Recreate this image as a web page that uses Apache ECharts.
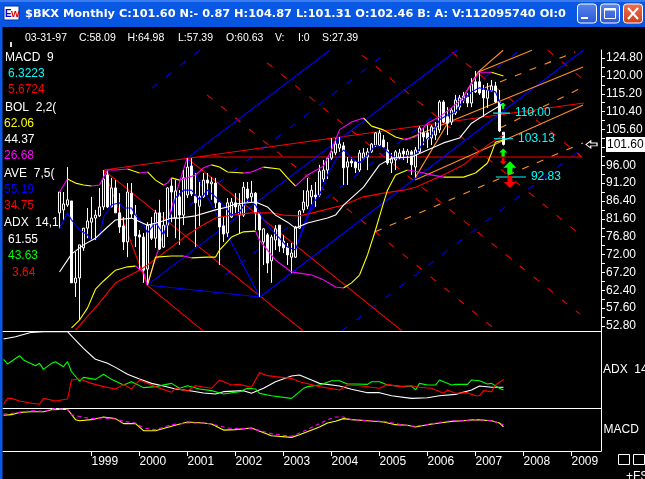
<!DOCTYPE html>
<html>
<head>
<meta charset="utf-8">
<style>html,body{margin:0;padding:0;background:#000;overflow:hidden}#main{width:645px;height:479px}</style>
<script src="https://cdn.jsdelivr.net/npm/echarts@6/dist/echarts.min.js"></script>
</head>
<body>
<div id="main"></div>
<script>
// months are counted from Jan 1999 = 0
var firstCandleMonth = -8;
// open, close, low, high
var candles = [
  [83.2,88.8,78.9,88.8],[84.0,85.6,81.3,88.8],[85.3,86.7,84.8,95.5],[86.4,64.4,64.4,86.4],
  [64.4,65.7,60.6,72.7],[65.7,74.6,54.4,74.6],[73.8,79.1,73.0,79.1],[79.1,81.0,76.4,84.5],
  [80.7,81.8,75.9,87.5],[81.8,82.6,75.9,84.0],[82.4,84.8,82.1,89.9],[84.8,92.3,84.0,94.7],
  [93.4,84.8,84.5,94.7],[84.8,89.9,84.8,92.6],[89.9,83.2,83.2,92.0],[83.2,79.4,77.8,88.5],
  [79.7,75.4,73.2,82.1],[75.4,88.8,71.3,91.2],[88.5,82.9,81.8,91.2],[82.6,77.0,74.0,85.3],
  [77.3,76.7,67.8,78.6],[76.7,67.8,64.4,77.8],[68.1,79.9,63.8,80.7],[79.9,76.4,75.9,82.1],
  [76.4,83.2,73.8,84.0],[83.2,73.5,73.2,86.7],[74.0,79.9,73.8,83.4],[79.9,89.9,76.7,90.1],
  [90.4,88.8,80.7,92.6],[81.8,89.1,76.4,92.0],[87.5,82.6,74.6,89.3],[82.6,92.6,79.9,94.7],
  [88.0,95.5,87.2,97.9],[95.8,88.3,87.7,97.9],[87.7,85.9,74.0,93.9],[85.0,87.7,79.7,91.5],
  [87.5,92.0,87.2,93.9],[92.0,91.2,88.0,93.9],[91.0,91.5,86.7,92.8],[91.2,85.9,84.5,92.6],
  [85.9,79.4,69.2,86.1],[79.7,77.5,75.4,82.1],[77.8,85.9,76.7,87.2],[82.1,86.1,81.8,87.2],
  [85.9,84.8,82.6,88.5],[82.6,85.3,77.5,88.5],[82.6,90.1,82.1,91.5],[89.6,87.2,86.1,91.5],
  [87.5,88.5,86.1,91.8],[88.5,83.2,78.6,88.8],[83.2,78.6,60.6,83.4],[75.4,78.9,69.2,79.1],
  [77.3,69.7,67.0,77.8],[70.3,76.7,64.4,77.3],[75.9,78.9,73.2,79.9],[79.9,74.3,72.7,79.9],
  [75.6,73.8,72.4,77.3],[74.0,71.9,69.2,75.1],[71.3,72.4,67.0,75.1],[71.3,79.4,71.1,79.7],
  [79.1,83.7,78.9,84.0],[84.0,86.1,83.2,89.3],[85.0,89.1,84.2,92.6],[87.5,89.3,85.3,90.7],
  [88.0,87.5,84.8,91.5],[88.0,94.4,87.5,96.1],[92.3,94.7,91.5,97.4],[94.7,97.9,92.3,98.2],
  [97.9,99.6,97.4,103.3],[99.3,101.7,98.7,103.3],[100.6,101.7,99.6,103.6],[101.2,95.3,90.7,102.2],
  [95.5,96.9,90.7,98.2],[97.1,96.6,95.5,98.2],[96.9,95.3,93.9,97.4],[94.7,99.3,94.2,100.1],
  [97.9,99.3,97.4,100.6],[98.2,99.6,94.7,100.6],[99.6,101.7,99.3,102.0],[101.4,104.7,100.9,104.9],
  [101.4,104.7,100.9,105.5],[102.8,100.9,100.6,104.1],[100.1,96.6,96.1,102.2],[96.6,97.7,93.9,99.3],
  [97.4,99.6,94.7,100.1],[98.2,99.3,97.4,100.4],[99.8,99.0,97.4,100.6],[98.7,99.8,96.6,100.4],
  [99.6,96.1,93.4,100.1],[95.5,100.1,92.8,100.9],[99.6,106.0,99.3,106.5],[104.7,103.6,101.4,106.0],
  [104.7,103.0,100.6,106.8],[103.3,106.3,101.4,106.8],[104.1,106.0,102.8,107.6],[105.5,113.0,104.7,113.5],
  [113.0,107.6,107.3,113.5],[109.0,107.3,104.1,111.6],[107.6,110.8,106.8,111.4],[110.0,113.5,109.5,114.9],
  [111.6,114.1,110.8,114.9],[113.5,114.6,112.7,115.7],[114.3,112.7,111.6,115.4],[112.7,117.8,111.6,119.4],
  [118.4,115.7,115.4,121.3],[118.4,115.4,114.9,121.3],[116.2,114.1,109.0,117.6],[114.0,116.2,111.4,118.1],
  [116.0,117.3,115.7,118.9],[117.3,113.0,112.7,118.4],[113.0,105.2,104.9,116.2],[104.87,101.6,101.31,104.87]
];

// indicators as [month, value]
var bolUpper = [[-8,88.8],[-6,92.3],[-4,91.2],[-2,90.7],[0,90.4],[2,90.7],[3,92.8],[4,94.7],[6,94.7],[9,95.0],[12,93.9],[14,94.2],[16,92.0],[18,90.7],[19,91.2],[20,92.6],[22,92.0],[24,92.6],[26,93.4],[28,95.3],[30,96.1],[32,95.5],[34,94.2],[38,93.9],[40,94.2],[43,95.5],[47,95.0],[49,92.6],[51,90.4],[54,93.4],[58,95.8],[60,100.1],[62,105.5],[65,107.6],[68,108.7],[70,106.5],[73,105.5],[76,103.6],[78,103.0],[81,103.6],[84,107.3],[87,109.0],[90,111.4],[93,114.3],[95,118.1],[97,121.0],[100,121.0],[103,120.0]];
var bolLower = [[-5,52.3],[-3,54.4],[-1,57.6],[1,62.7],[3,64.9],[6,67.8],[9,68.7],[11,68.9],[13,67.3],[14,63.8],[16,71.3],[20,71.6],[23,71.6],[25,71.1],[29,71.3],[31,71.3],[32,73.2],[35,76.7],[38,78.1],[41,78.3],[42,75.9],[46,70.5],[50,67.3],[52,67.0],[55,66.5],[58,65.2],[61,63.3],[63,63.0],[65,64.4],[67,66.5],[69,71.9],[71,78.6],[73,85.9],[74,89.3],[76,93.4],[79,94.7],[82,94.2],[85,93.4],[88,92.8],[93,92.8],[96,93.9],[99,96.6],[100,99.3],[101,102.2],[103,102.8]];
var bolMiddle = [[-8,67.3],[-6,70.5],[-5,72.1],[-2,74.6],[1,76.4],[4,79.4],[6,81.3],[10,81.8],[14,79.9],[17,80.7],[20,81.8],[22,81.8],[26,82.4],[31,84.0],[34,84.8],[36,85.6],[41,86.1],[44,84.8],[46,82.6],[49,80.7],[51,79.1],[54,80.5],[59,81.8],[61,82.6],[63,85.3],[68,90.1],[72,96.1],[75,97.9],[80,98.2],[84,100.1],[88,102.0],[92,103.3],[95,107.3],[99,110.0],[102,111.9],[103,112.7]];
var aveFast = [[-8,78.9],[-6,83.2],[-5,81.3],[-3,78.6],[-1,77.3],[0,75.9],[2,76.7],[3,82.1],[5,85.3],[7,85.9],[8,84.5],[10,84.5],[11,82.6],[13,79.9],[14,77.8],[16,80.7],[18,77.3],[20,83.2],[21,87.2],[23,89.3],[25,89.3],[27,86.7],[29,89.3],[31,87.5],[33,85.3],[35,82.6],[37,83.4],[39,86.7],[41,85.3],[43,81.3],[45,78.6],[47,76.4],[49,74.0],[51,73.2],[53,79.9],[55,85.3],[57,88.0],[59,93.4],[61,97.4],[63,100.1],[65,97.9],[67,96.6],[69,98.7],[71,101.4],[73,100.6],[75,98.7],[77,97.4],[79,98.7],[81,98.7],[83,102.2],[85,104.1],[87,108.2],[89,109.5],[91,110.3],[93,113.5],[95,115.7],[97,116.8],[99,116.2],[101,115.7],[103,110.8]];
var aveSlow = [[-4,51.7],[2,59.0],[6,64.4],[12,67.8],[14,69.2],[19,73.2],[24,77.3],[27,79.4],[31,81.8],[35,82.6],[40,83.2],[45,83.2],[48,82.6],[52,82.4],[56,83.4],[63,85.3],[68,87.5],[73,88.5],[78,89.3],[81,90.1],[84,91.5],[89,93.9],[93,96.1],[95,97.9],[99,101.4],[103,104.1]];

var adxLine = [[-22,61.6],[-19,63.7],[-15,67.6],[-12,68.2],[-6,68.2],[-4,60.7],[-2,53.3],[0,46.7],[1,43.5],[4,39.9],[6,36.3],[9,30.1],[12,25.9],[15,22.0],[18,19.6],[21,17.0],[25,15.2],[28,13.4],[31,12.5],[33,14.6],[38,15.5],[40,13.1],[43,17.6],[46,23.5],[50,28.6],[52,29.5],[55,25.0],[57,22.0],[62,19.6],[65,16.7],[69,13.7],[72,13.7],[75,11.0],[80,8.6],[84,9.2],[87,11.0],[91,12.2],[95,16.1],[97,19.6],[100,18.5],[103,18.5]];
var diPlus = [[-22,43.5],[-21,39.3],[-18,46.7],[-17,42.9],[-14,37.8],[-13,39.9],[-12,34.5],[-10,39.9],[-9,41.4],[-7,36.9],[-6,41.4],[-5,32.4],[-3,24.1],[-2,27.4],[1,25.6],[3,30.1],[5,25.6],[8,20.5],[10,23.5],[13,18.2],[16,19.1],[20,22.0],[22,17.6],[24,19.9],[27,17.0],[30,15.5],[33,12.5],[37,14.6],[39,17.6],[41,17.0],[42,13.1],[45,11.0],[50,8.6],[53,17.6],[54,19.1],[57,20.5],[60,24.4],[62,24.4],[64,21.4],[66,21.4],[69,21.1],[70,23.5],[72,23.5],[74,20.5],[78,19.1],[80,19.6],[81,16.1],[82,22.0],[84,20.5],[86,20.5],[87,25.0],[90,20.5],[91,21.1],[94,21.1],[95,25.0],[97,24.4],[99,21.4],[100,22.0],[102,17.6],[103,16.1]];
var diMinus = [[-22,3.3],[-21,8.6],[-20,8.6],[-18,6.3],[-15,4.2],[-13,3.3],[-12,8.6],[-9,6.3],[-6,8.0],[-5,25.0],[-3,25.9],[0,22.0],[3,19.1],[6,17.0],[8,21.1],[10,17.0],[12,25.0],[16,19.1],[20,14.0],[21,17.6],[24,15.2],[26,19.9],[30,17.6],[32,25.0],[35,20.5],[37,21.1],[40,18.5],[42,31.6],[44,28.9],[46,28.0],[50,26.5],[52,23.5],[57,19.1],[61,16.7],[62,16.1],[64,20.5],[67,19.9],[70,18.5],[72,17.6],[74,21.1],[77,19.1],[80,19.9],[82,18.5],[85,17.6],[88,13.1],[89,16.1],[91,13.1],[94,13.7],[96,11.0],[97,11.0],[98,15.5],[100,14.6],[101,20.5],[103,25.6]];

var macdLine = [[-22,5.7],[-20,6.0],[-18,7.1],[-15,7.4],[-12,7.4],[-10,8.4],[-6,8.6],[-4,3.6],[-3,3.1],[0,3.6],[3,4.9],[6,4.1],[8,1.7],[11,1.7],[13,-1.7],[16,-1.7],[20,0.4],[24,2.5],[28,2.0],[30,1.5],[33,-1.4],[36,-1.2],[40,-0.4],[45,-4.1],[50,-4.9],[52,-3.6],[57,0.1],[59,2.0],[61,2.8],[63,4.1],[65,3.6],[69,3.1],[73,2.5],[76,1.2],[79,0.9],[81,0.1],[84,1.2],[87,2.0],[90,2.8],[93,3.1],[96,3.6],[100,3.1],[102,2.0],[103,0.1]];
var macdSignal = [[-22,6.3],[-19,6.8],[-15,7.9],[-12,7.6],[-9,8.9],[-6,8.4],[-5,6.0],[-2,4.7],[0,4.1],[3,4.4],[6,3.9],[8,2.8],[11,2.0],[13,-0.4],[16,-1.2],[20,1.2],[24,2.0],[28,2.0],[30,1.5],[34,-0.4],[37,-0.7],[40,-0.7],[45,-3.1],[50,-4.4],[53,-2.0],[57,1.7],[59,3.6],[61,4.9],[63,4.9],[65,3.6],[69,3.1],[73,2.8],[76,1.7],[80,0.4],[84,1.2],[87,2.3],[90,3.1],[93,3.1],[96,3.6],[100,3.1],[103,1.2]];

// drawn lines, each [[month, price], [month, price]]
var redSolid = [
  [[3.1,94.7],[123.1,112.7]],
  [[26.6,98.2],[122.6,98.2],[121.4,99.3]],
  [[3.1,94.7],[52.9,51.5]],
  [[3.1,94.7],[13.9,63.8]],
  [[13.9,63.8],[27.9,51.5]],
  [[23.9,97.9],[77.6,51.5]]
];
var redDash = [
  [[28.9,114.9],[101.4,51.5]],
  [[43.9,123.5],[122.1,56.0]],
  [[67.6,125.6],[122.9,76.7]],
  [[90.1,126.4],[122.1,98.7]],
  [[114.1,126.9],[123.1,118.9]]
];
var blueSolid = [
  [[23.9,97.9],[42.1,60.6]],
  [[13.9,63.8],[42.1,60.6]],
  [[23.9,97.9],[59.6,126.9]],
  [[13.9,63.8],[91.4,126.9]],
  [[50.1,71.1],[62.1,104.1]],
  [[42.1,60.6],[122.9,126.9]]
];
var blueDash = [
  [[15.1,116.8],[27.1,126.9]],
  [[24.6,85.3],[74.6,126.9]],
  [[33.4,66.5],[107.1,126.9]],
  [[62.6,51.5],[123.1,100.9]]
];
var magentaSolid = [[[13.9,63.8],[23.9,97.9]]];
var orangeSolid = [
  [[80.9,92.6],[96.6,121.0]],
  [[96.6,121.0],[102.9,126.9]],
  [[96.6,121.0],[110.1,126.9]],
  [[78.4,102.8],[122.9,122.4]],
  [[80.9,92.0],[122.9,112.2]]
];
var orangeDash = [
  [[98.4,116.8],[120.9,126.4]],
  [[102.1,106.0],[122.9,117.0]],
  [[70.9,78.1],[122.9,102.0]]
];

// price levels: [from month, to month, price]
var levels = [[100.4,104.6,110.00],[100.6,105.4,103.13],[101.1,108.6,92.83]];
var upArrows = [[102.9,112.0,6],[102.9,99.4,8],[104.6,95.3,13]];
var downArrows = [[102.9,97.1,7],[104.6,91.5,12]];
var lastClose = 101.60;

var priceLabels = [124.8,120,115.2,110.4,105.6,96,91.2,86.4,81.6,76.8,72,67.2,62.4,57.6,52.8];
var priceTicks = [124.8,122.4,120,117.6,115.2,112.8,110.4,108,105.6,103.2,100.8,98.4,96,93.6,91.2,88.8,86.4,84,81.6,79.2,76.8,74.4,72,69.6,67.2,64.8,62.4,60,57.6,55.2,52.8];
var yearMonths = [0,12,24,36,48,60,72,84,96,108,120];
var yearLabels = ["1999","2000","2001","2002","2003","2004","2005","2006","2007","2008","2009"];

var font = "Liberation Sans";
var strokeW = 1.1;
var arrowPath = "path://M0,-5 L5,0 L2,0 L2,5 L-2,5 L-2,0 L-5,0 Z";

function xAxisFor(grid, labels) {
  return {
    type: "value", gridIndex: grid, min: -22.125, max: 127.375, splitLine: { show: false },
    axisLine: { onZero: false, lineStyle: { color: "#fff", width: 1 } },
    axisTick: { show: labels, customValues: yearMonths, length: 5, lineStyle: { color: "#fff" } },
    axisLabel: {
      show: labels, customValues: yearMonths, color: "#fff", fontFamily: font, fontSize: 12,
      align: "left", margin: 5,
      formatter: function (v) { return yearLabels[yearMonths.indexOf(v)]; }
    }
  };
}
function yAxisFor(grid, min, max) {
  return {
    type: "value", gridIndex: grid, position: "right", min: min, max: max, splitLine: { show: false },
    axisLine: { show: true, onZero: false, lineStyle: { color: "#fff", width: 1 } },
    axisTick: { show: false }, axisLabel: { show: false }
  };
}
function line(data, color, grid, extra) {
  var s = {
    type: "line", data: data, xAxisIndex: grid, yAxisIndex: grid, showSymbol: false, symbol: "none",
    lineStyle: { color: color, width: strokeW }, silent: true, animation: false, z: 3
  };
  for (var k in extra) s[k] = extra[k];
  return s;
}
// several separate strokes in one series, with gaps between them
function joined(segments) {
  var out = [];
  segments.forEach(function (seg) { out = out.concat(seg); out.push([null, null]); });
  return out;
}
// bands are yellow while contracting and magenta while widening
function bandPart(points, upperBand, widening) {
  var segs = [];
  for (var i = 1; i < points.length; i++) {
    var rising = points[i][1] >= points[i - 1][1];
    if ((upperBand ? rising : !rising) === widening) segs.push([points[i - 1], points[i]]);
  }
  return joined(segs);
}

var mainY = yAxisFor(0, 51.46, 126.96);
mainY.axisTick = { show: true, customValues: priceTicks, length: 4, lineStyle: { color: "#fff" } };
mainY.axisLabel = {
  show: true, customValues: priceLabels.concat([lastClose]), color: "#fff", fontFamily: font, fontSize: 12,
  margin: 5, align: "left",
  formatter: function (v) { return v === lastClose ? "{last|" + v.toFixed(2) + "}" : v.toFixed(2); },
  rich: { last: { backgroundColor: "#fff", color: "#000", fontFamily: font, fontSize: 12, padding: [2, 3, 1, 1] } }
};

var series = [
  line(joined(redDash), "#ff0000", 0, { lineStyle: { color: "#f00000", width: strokeW, type: [7, 11] }, z: 1 }),
  line(joined(blueDash), "#0000ff", 0, { lineStyle: { color: "#0000f0", width: strokeW, type: [7, 11] }, z: 1 }),
  line(joined(orangeDash), "#ff9020", 0, { lineStyle: { color: "#ff9020", width: strokeW, type: [7, 9] }, z: 1 }),
  line(joined(redSolid), "#ff0000", 0, { z: 1 }),
  line(joined(blueSolid), "#0000ff", 0, { z: 1 }),
  line(joined(magentaSolid), "#ff00ff", 0, { z: 1 }),
  line(joined(orangeSolid), "#ff9020", 0, { z: 1 }),
  {
    type: "candlestick", xAxisIndex: 0, yAxisIndex: 0, barWidth: 3, silent: true, animation: false, z: 2,
    data: candles.map(function (c, i) { return [firstCandleMonth + i].concat(c); }),
    encode: { x: 0, y: [1, 2, 3, 4] },
    itemStyle: { color: "#000", color0: "#fff", borderColor: "#fff", borderColor0: "#fff", borderWidth: 1 }
  },
  line(aveSlow, "#ff0000", 0),
  line(aveFast, "#0000ff", 0),
  line(bolMiddle, "#ffffff", 0),
  line(bandPart(bolUpper, true, true), "#ff00ff", 0),
  line(bandPart(bolUpper, true, false), "#ffff00", 0),
  line(bandPart(bolLower, false, true), "#ff00ff", 0),
  line(bandPart(bolLower, false, false), "#ffff00", 0),
  line(adxLine, "#ffffff", 1),
  line(diPlus, "#00ff00", 1),
  line(diMinus, "#ff0000", 1),
  line(macdLine, "#ffff00", 2),
  line(macdSignal, "#ff00ff", 2, { lineStyle: { color: "#ff00ff", width: strokeW, type: [4, 3] } })
];

levels.forEach(function (lv) {
  series.push(line([[lv[0], lv[2]], [lv[1], lv[2]]], "#00ffff", 0, {
    z: 5,
    endLabel: { show: true, formatter: lv[2].toFixed(2), color: "#00ffff", fontFamily: font, fontSize: 12, distance: 5 }
  }));
});
[[upArrows, "#00ff00", 0], [downArrows, "#ff0000", 180]].forEach(function (a) {
  series.push({
    type: "scatter", xAxisIndex: 0, yAxisIndex: 0, silent: true, animation: false, z: 6,
    symbol: arrowPath, symbolRotate: a[2], itemStyle: { color: a[1], opacity: 1 },
    symbolSize: function (v) { return v[2]; },
    data: a[0]
  });
});
// hollow pointer at the last close
series.push({
  type: "scatter", xAxisIndex: 0, yAxisIndex: 0, silent: true, animation: false, z: 6,
  symbol: "path://M0,5 L6,0 L6,3 L14,3 L14,7 L6,7 L6,10 Z", symbolSize: [11, 7],
  itemStyle: { color: "#000", borderColor: "#fff", borderWidth: 1, opacity: 1 },
  data: [[125.0, lastClose]]
});

function txt(x, y, text, color, size, weight) {
  return {
    type: "text", x: x, y: y, silent: true, z: 20,
    style: { text: text, fill: color, font: (weight || "normal") + " " + (size || 12) + "px '" + font + "'", textVerticalAlign: "middle" }
  };
}
function box(x, y, w, h, fill, stroke, r) {
  return { type: "rect", silent: true, z: 19, shape: { x: x, y: y, width: w, height: h, r: r || 0 }, style: { fill: fill, stroke: stroke || null, lineWidth: 1 } };
}
function grad(a, b) {
  return { type: "linear", x: 0, y: 0, x2: 0, y2: 1, colorStops: [{ offset: 0, color: a }, { offset: 1, color: b }] };
}

var chrome = [
  box(0, 0, 645, 27, grad("#0a5ae6", "#0654e0")),
  box(0, 0, 645, 2, "#3a7cf0"),
  box(0, 27, 2.5, 452, "#0a5ae6"),
  box(4, 6, 15, 14, "#ffffff", "#0030a0"),
  txt(5, 14, "E", "#0000d0", 10, "bold"),
  txt(11, 15, "W", "#e00000", 9, "bold"),
  {
    type: "text", x: 25, y: 14, silent: true, z: 20,
    style: { text: "$BKX Monthly C:101.60 N:- 0.87 H:104.87 L:101.31 O:102.46 B: A: V:112095740 OI:0", fill: "#fff", font: "bold 11.35px 'DejaVu Sans'", textVerticalAlign: "middle" }
  },
  box(577.5, 4, 19, 19, grad("#5a86ec", "#2a55d8"), "#ffffff", 3),
  box(600.5, 4, 19, 19, grad("#5a86ec", "#2a55d8"), "#ffffff", 3),
  box(623.5, 4, 19, 19, grad("#ee7050", "#c8401c"), "#ffffff", 3),
  box(581, 17, 7, 2, "#ffffff"),
  box(604.5, 8.5, 11, 10, null, "#ffffff"),
  box(604.5, 8.5, 11, 2, "#ffffff"),
  { type: "line", silent: true, z: 20, shape: { x1: 628, y1: 8, x2: 638, y2: 19 }, style: { stroke: "#fff", lineWidth: 2 } },
  { type: "line", silent: true, z: 20, shape: { x1: 638, y1: 8, x2: 628, y2: 19 }, style: { stroke: "#fff", lineWidth: 2 } },

  box(10, 42, 2, 5, "#dddddd"),
  txt(25, 38, "03-31-97", "#fff", 10.5),
  txt(79, 38, "C:58.09", "#fff", 10.5),
  txt(127.5, 38, "H:64.98", "#fff", 10.5),
  txt(178, 38, "L:57.39", "#fff", 10.5),
  txt(226, 38, "O:60.63", "#fff", 10.5),
  txt(275, 38, "V:", "#fff", 10.5),
  txt(298, 38, "I:0", "#fff", 10.5),
  txt(322, 38, "S:27.39", "#fff", 10.5),

  txt(5, 58, "MACD  9", "#fff"),
  txt(8, 74, "6.3223", "#00ffff"),
  txt(8, 90, "5.6724", "#ff0000"),
  txt(5, 108, "BOL  2,2(", "#fff"),
  txt(4, 124, "62.06", "#ffff00"),
  txt(4.5, 140, "44.37", "#fff"),
  txt(4, 156, "26.68", "#ff00ff"),
  txt(4, 174, "AVE  7,5(", "#fff"),
  txt(4, 190, "55.19", "#0000ff"),
  txt(4, 206, "34.75", "#ff0000"),
  txt(4, 223, "ADX  14,1", "#fff"),
  txt(8, 240, "61.55", "#fff"),
  txt(8, 256, "43.63", "#00ff00"),
  txt(12, 273, "3.64", "#ff0000"),

  txt(603, 370, "ADX  14,1", "#fff"),
  txt(603.5, 430, "MACD", "#fff"),
  box(618.5, 454.5, 11, 10, null, "#ffffff"),
  box(633.5, 454.5, 11, 10, null, "#ffffff"),
  txt(626, 477, "+FS", "#fff")
];

var chart = echarts.init(document.getElementById("main"), null, { renderer: "canvas" });
chart.setOption({
  backgroundColor: "#000",
  animation: false,
  grid: [
    { left: 3, right: 44, top: 50, height: 281, outerBoundsMode: "none" },
    { left: 3, right: 44, top: 331, height: 77, outerBoundsMode: "none" },
    { left: 3, right: 44, top: 408, height: 43, outerBoundsMode: "none" }
  ],
  xAxis: [xAxisFor(0, false), xAxisFor(1, false), xAxisFor(2, true)],
  yAxis: [mainY, yAxisFor(1, 0, 68.8), yAxisFor(2, -11.44, 9.2)],
  series: series,
  graphic: chrome
});
</script>
</body>
</html>
